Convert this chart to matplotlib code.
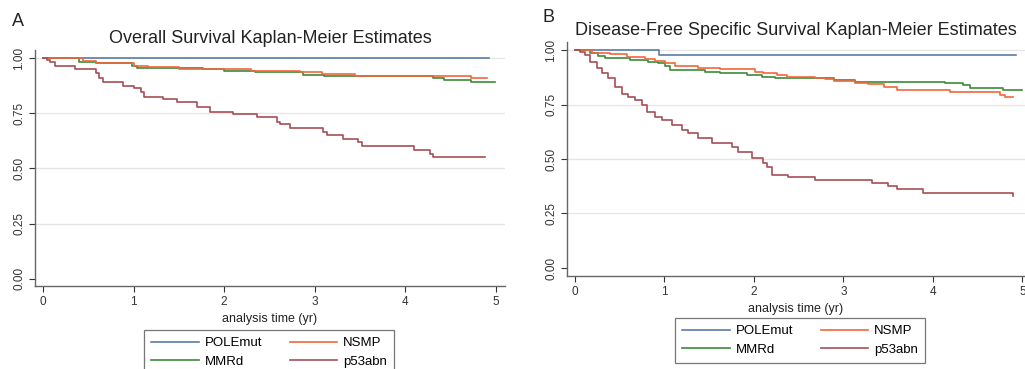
import matplotlib
matplotlib.use("Agg")
import matplotlib.pyplot as plt

plt.rcParams['font.family'] = ['Liberation Sans', 'DejaVu Sans']

groups = ['POLEmut', 'NSMP', 'MMRd', 'p53abn']
colors = {'POLEmut': '#5a7ca6', 'NSMP': '#f2663a', 'MMRd': '#3c8a3a', 'p53abn': '#a64e55'}

# Panel A: overall survival (step times in years, survival after step)
os_polemut_t = [0.0, 4.92]
os_polemut_s = [1.0, 1.0]
os_nsmp_t = [0.0, 0.44, 0.58, 1.0, 1.16, 1.5, 2.3, 2.84, 3.08, 3.44, 4.3, 4.73, 4.9]
os_nsmp_s = [1.0, 0.985, 0.975, 0.965, 0.957, 0.95, 0.943, 0.935, 0.927, 0.92, 0.918, 0.908, 0.908]
os_mmrd_t = [0.0, 0.4, 0.58, 0.98, 1.04, 1.77, 2.0, 2.34, 2.87, 3.1, 4.3, 4.43, 4.73, 4.99]
os_mmrd_s = [1.0, 0.98, 0.975, 0.962, 0.955, 0.95, 0.943, 0.935, 0.925, 0.918, 0.91, 0.898, 0.89, 0.89]
os_p53_t = [0.0, 0.04, 0.08, 0.13, 0.35, 0.58, 0.62, 0.66, 0.88, 1.0, 1.08, 1.12, 1.32,
            1.48, 1.70, 1.84, 2.10, 2.36, 2.58, 2.62, 2.73, 3.09, 3.13, 3.31, 3.48,
            3.52, 4.09, 4.27, 4.30, 4.88]
os_p53_s = [1.0, 0.99, 0.98, 0.965, 0.95, 0.93, 0.91, 0.89, 0.875, 0.865, 0.845, 0.825,
            0.815, 0.80, 0.78, 0.755, 0.745, 0.732, 0.71, 0.70, 0.684, 0.665, 0.65,
            0.633, 0.62, 0.60, 0.584, 0.565, 0.552, 0.552]

# Panel B: disease-free specific survival
dfs_polemut_t = [0.0, 0.94, 4.93]
dfs_polemut_s = [1.0, 0.977, 0.977]
dfs_nsmp_t = [0.0, 0.19, 0.39, 0.58, 0.78, 0.89, 1.01, 1.12, 1.38, 1.62, 2.01, 2.10,
              2.26, 2.37, 2.68, 2.80, 2.89, 3.13, 3.27, 3.45, 3.60, 4.19, 4.75, 4.81, 4.90]
dfs_nsmp_s = [1.0, 0.988, 0.98, 0.97, 0.958, 0.95, 0.94, 0.927, 0.916, 0.911, 0.90,
              0.893, 0.885, 0.877, 0.873, 0.865, 0.858, 0.85, 0.846, 0.832, 0.817,
              0.806, 0.794, 0.786, 0.786]
dfs_mmrd_t = [0.0, 0.17, 0.26, 0.34, 0.62, 0.82, 0.93, 1.01, 1.06, 1.45, 1.62, 1.92,
              2.09, 2.24, 2.72, 2.89, 3.13, 4.14, 4.34, 4.42, 4.78, 5.0]
dfs_mmrd_s = [1.0, 0.985, 0.972, 0.962, 0.954, 0.946, 0.94, 0.927, 0.908, 0.90,
              0.893, 0.885, 0.877, 0.874, 0.87, 0.862, 0.855, 0.847, 0.84, 0.828,
              0.817, 0.817]
dfs_p53_t = [0.0, 0.06, 0.11, 0.17, 0.25, 0.30, 0.37, 0.45, 0.53, 0.59, 0.67, 0.75,
             0.81, 0.89, 0.97, 1.09, 1.20, 1.26, 1.38, 1.53, 1.76, 1.82, 1.98, 2.10,
             2.15, 2.20, 2.38, 2.68, 3.32, 3.50, 3.60, 3.89, 4.88, 4.90]
dfs_p53_s = [1.0, 0.99, 0.977, 0.945, 0.917, 0.894, 0.87, 0.83, 0.80, 0.784, 0.77,
             0.748, 0.716, 0.693, 0.68, 0.656, 0.633, 0.62, 0.596, 0.573, 0.555,
             0.532, 0.505, 0.482, 0.463, 0.427, 0.417, 0.404, 0.39, 0.376, 0.362,
             0.344, 0.344, 0.33]

panels = [
    ('A', 'Overall Survival Kaplan-Meier Estimates',
     {'POLEmut': (os_polemut_t, os_polemut_s), 'NSMP': (os_nsmp_t, os_nsmp_s),
      'MMRd': (os_mmrd_t, os_mmrd_s), 'p53abn': (os_p53_t, os_p53_s)}),
    ('B', 'Disease-Free Specific Survival Kaplan-Meier Estimates',
     {'POLEmut': (dfs_polemut_t, dfs_polemut_s), 'NSMP': (dfs_nsmp_t, dfs_nsmp_s),
      'MMRd': (dfs_mmrd_t, dfs_mmrd_s), 'p53abn': (dfs_p53_t, dfs_p53_s)}),
]

yticks = [0.0, 0.25, 0.5, 0.75, 1.0]
yticklabels = ['0.00', '0.25', '0.50', '0.75', '1.00']
xticks = [0, 1, 2, 3, 4, 5]

fig = plt.figure(figsize=(10.25, 3.69), dpi=100)

axes_pos = [
    [35 / 1025, 1 - 286 / 369, 470 / 1025, 236 / 369],
    [567 / 1025, 1 - 276 / 369, 458 / 1025, 234 / 369],
]
xlims = [(-0.088, 5.1), (-0.089, 5.03)]
ylims = [(-0.032, 1.036), (-0.037, 1.037)]
letter_pos = [(12 / 1025, 1 - 21 / 369), (543 / 1025, 1 - 18 / 369)]
legend_pos = [(144 / 1025, 1 - 330 / 369), (675 / 1025, 1 - 318 / 369)]

# column-major order so rows read POLEmut/NSMP, MMRd/p53abn
leg_order = ['POLEmut', 'MMRd', 'NSMP', 'p53abn']

for i, (letter, title, data) in enumerate(panels):
    ax = fig.add_axes(axes_pos[i])
    for yv in [0.25, 0.5, 0.75, 1.0]:
        ax.axhline(yv, color='#e6e6e6', lw=1.0, zorder=0)
    handles = {}
    for g in ['POLEmut', 'MMRd', 'NSMP', 'p53abn']:
        t, s = data[g]
        h, = ax.step(t, s, where='post', color=colors[g], lw=1.2, label=g)
        handles[g] = h
    ax.set_xlim(*xlims[i])
    ax.set_ylim(*ylims[i])
    ax.set_xticks(xticks)
    ax.set_yticks(yticks)
    ax.set_yticklabels(yticklabels, rotation=90, va='center')
    ax.tick_params(labelsize=8.5, colors='#333333', length=4, width=0.8, pad=3)
    for side in ['top', 'right']:
        ax.spines[side].set_visible(False)
    for side in ['left', 'bottom']:
        ax.spines[side].set_color('#666666')
        ax.spines[side].set_linewidth(1.0)
    ax.set_xlabel('analysis time (yr)', fontsize=9, color='#222222', labelpad=4)
    ax.set_title(title, fontsize=13, color='#222222', pad=5)
    fig.text(letter_pos[i][0], letter_pos[i][1], letter, fontsize=13,
             ha='left', va='center', color='#222222')
    leg = fig.legend([handles[g] for g in leg_order], leg_order, ncol=2,
                     loc='upper left', bbox_to_anchor=legend_pos[i],
                     fontsize=9.5, frameon=True, fancybox=False,
                     handlelength=3.6, handletextpad=0.45, columnspacing=2.1,
                     labelspacing=0.45, borderpad=0.55, borderaxespad=0)
    leg.get_frame().set_edgecolor('#555555')
    leg.get_frame().set_linewidth(0.9)

fig.savefig('out.png', dpi=100)
